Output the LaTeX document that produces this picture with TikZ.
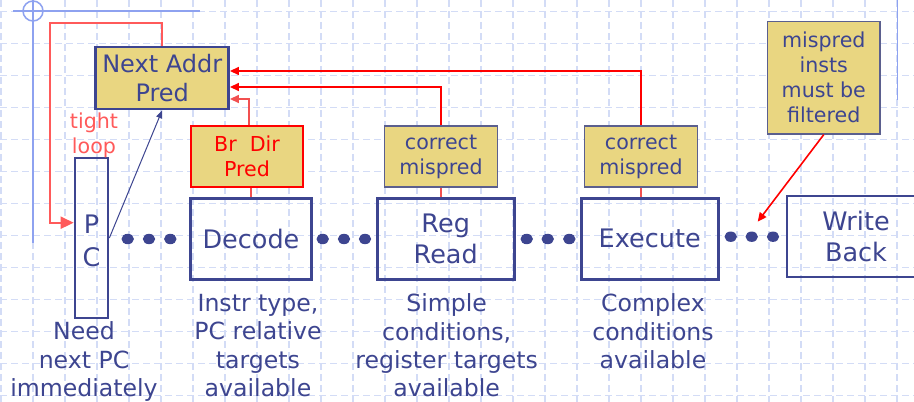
\documentclass[tikz,border=0pt]{standalone}
\usepackage{fontspec}
\setmainfont{DejaVu Sans}
\usetikzlibrary{arrows.meta,calc}
\definecolor{navy}{HTML}{3D4590}
\definecolor{khaki}{HTML}{E9D681}
\definecolor{greynavy}{HTML}{5B5F8E}
\definecolor{gridblue}{HTML}{D3DCF6}
\definecolor{decoblue}{HTML}{8EA2F0}
\definecolor{lightred}{HTML}{FF5A5A}
\definecolor{midred}{HTML}{F25050}
\definecolor{purered}{HTML}{FF0000}
\begin{document}
\begin{tikzpicture}[x=1pt,y=-1pt,
  gridline/.style={gridblue,line width=1.3pt,dash pattern=on 7pt off 4pt},
  deco/.style={decoblue,line width=1.5pt},
  stage/.style={draw=navy,line width=2.7pt,text=navy,align=center,inner sep=0pt,
    font=\fontsize{25.5}{31}\selectfont},
  predbox/.style={fill=khaki,draw=greynavy,line width=1.2pt,text=navy,align=center,inner sep=0pt,
    font=\fontsize{20.6}{25}\selectfont},
  lbl/.style={text=navy,align=center,inner sep=0pt,font=\fontsize{23.6}{28.4}\selectfont},
  redthin/.style={draw=purered,line width=1.6pt},
  redmid/.style={draw=midred,line width=1.6pt},
  redtip/.style={-{Triangle[length=9pt,width=8pt]}},
  dot/.style={fill=navy}
]
\useasboundingbox (0,0) rectangle (914,402);
\clip (0,0) rectangle (914,402);
\fill[white] (0,0) rectangle (914,402);
% grid
\foreach \i in {0,...,28} \draw[gridline] ({1+32*\i},0) -- ({1+32*\i},402);
\foreach \j in {0,...,12} \draw[gridline] (0,{11.5+32*\j}) -- (914,{11.5+32*\j});
% decorations
\draw[deco] (33,11) circle[radius=10pt];
\draw[deco] (13,11) -- (200,11);
\draw[deco] (33,0) -- (33,243);
\draw[deco] (897.7,0) -- (897.7,100);

% pipeline stages
\node[stage,minimum width=33pt,minimum height=160pt,font=\fontsize{25.5}{33}\selectfont] (pc) at (91.5,238) {\rule{0pt}{24.6pt}P\\C};
\node[stage,minimum width=121pt,minimum height=81pt] (dec) at (251,239) {Decode};
\node[stage,minimum width=137pt,minimum height=81pt] (rr) at (445.7,238.7) {Reg\\Read};
\node[stage,minimum width=137pt,minimum height=81pt] (ex) at (649.7,238.7) {Execute};
\node[stage,minimum width=138pt,minimum height=81pt] (wb) at (856,236.5) {Write\\Back};

% predictor boxes
\node[predbox,draw=navy,line width=2.5pt,minimum width=133pt,minimum height=62pt,
  font=\fontsize{24}{29}\selectfont] (nap) at (162.2,78) {Next Addr\\Pred};
\node[predbox,draw=purered,text=purered,line width=2pt,minimum width=112pt,minimum height=61pt] (bdp) at (247,156.5) {Br\ \ Dir\\Pred};
\node[predbox,minimum width=112.7pt,minimum height=61pt] (cm1) at (441,156.5) {correct\\mispred};
\node[predbox,minimum width=112.7pt,minimum height=61pt] (cm2) at (641,156.5) {correct\\mispred};
\node[predbox,minimum width=112.3pt,minimum height=112.3pt] (mp) at (823.8,77.8) {mispred\\insts\\must be\\filtered};

% dots
\foreach \x/\y in {127.7/239,149/239,170.3/239,322.7/239,344/239,365/239,526.7/239,547.7/239,569.3/239,730.7/236.7,751.7/236.7,773/236.7}
  \fill[dot] (\x,\y) ellipse [x radius=6.2pt,y radius=5.2pt];

% labels
\node[text=lightred,align=center,inner sep=0pt,font=\fontsize{20.6}{25}\selectfont,anchor=north] (tl) at (94,112.6) {tight\\loop};
\node[lbl,anchor=north] (l1) at (84,321.5) {Need\\next PC\\immediately};
\node[lbl,anchor=north] (l2) at (258,294) {Instr type,\\PC relative\\targets\\available};
\node[lbl,anchor=north] (l3) at (446.7,293.5) {Simple\\conditions,\\register targets\\available};
\node[lbl,anchor=north] (l4) at (653,293.5) {Complex\\conditions\\available};

% connectors
\coordinate (lp) at (49.5,23);
\draw[lightred,line width=2pt,-{Triangle[length=13pt,width=12pt]}] (nap.north) |- (lp) |- (pc.west |- 0,222.7);
\draw[navy,line width=1pt,-{Triangle[length=8pt,width=6pt]}] (pc.east) -- (nap.south);
\draw[redthin,redtip] (cm2.north) |- ([yshift=7pt]nap.east);
\draw[redthin,redtip] (cm1.north) |- ([yshift=-9pt]nap.east);
\draw[redmid,redtip] ([xshift=2pt]bdp.north) |- ([yshift=-21pt]nap.east);
\draw[redmid] (dec.north) -- (dec.north |- bdp.south);
\draw[redmid] (cm1.south) -- (cm1.south |- rr.north);
\draw[redmid] (cm2.south) -- (cm2.south |- ex.north);
\coordinate (mpend) at (757.7,221.7);
\draw[redthin,redtip] (mp.south) -- (mpend);
\end{tikzpicture}
\end{document}
